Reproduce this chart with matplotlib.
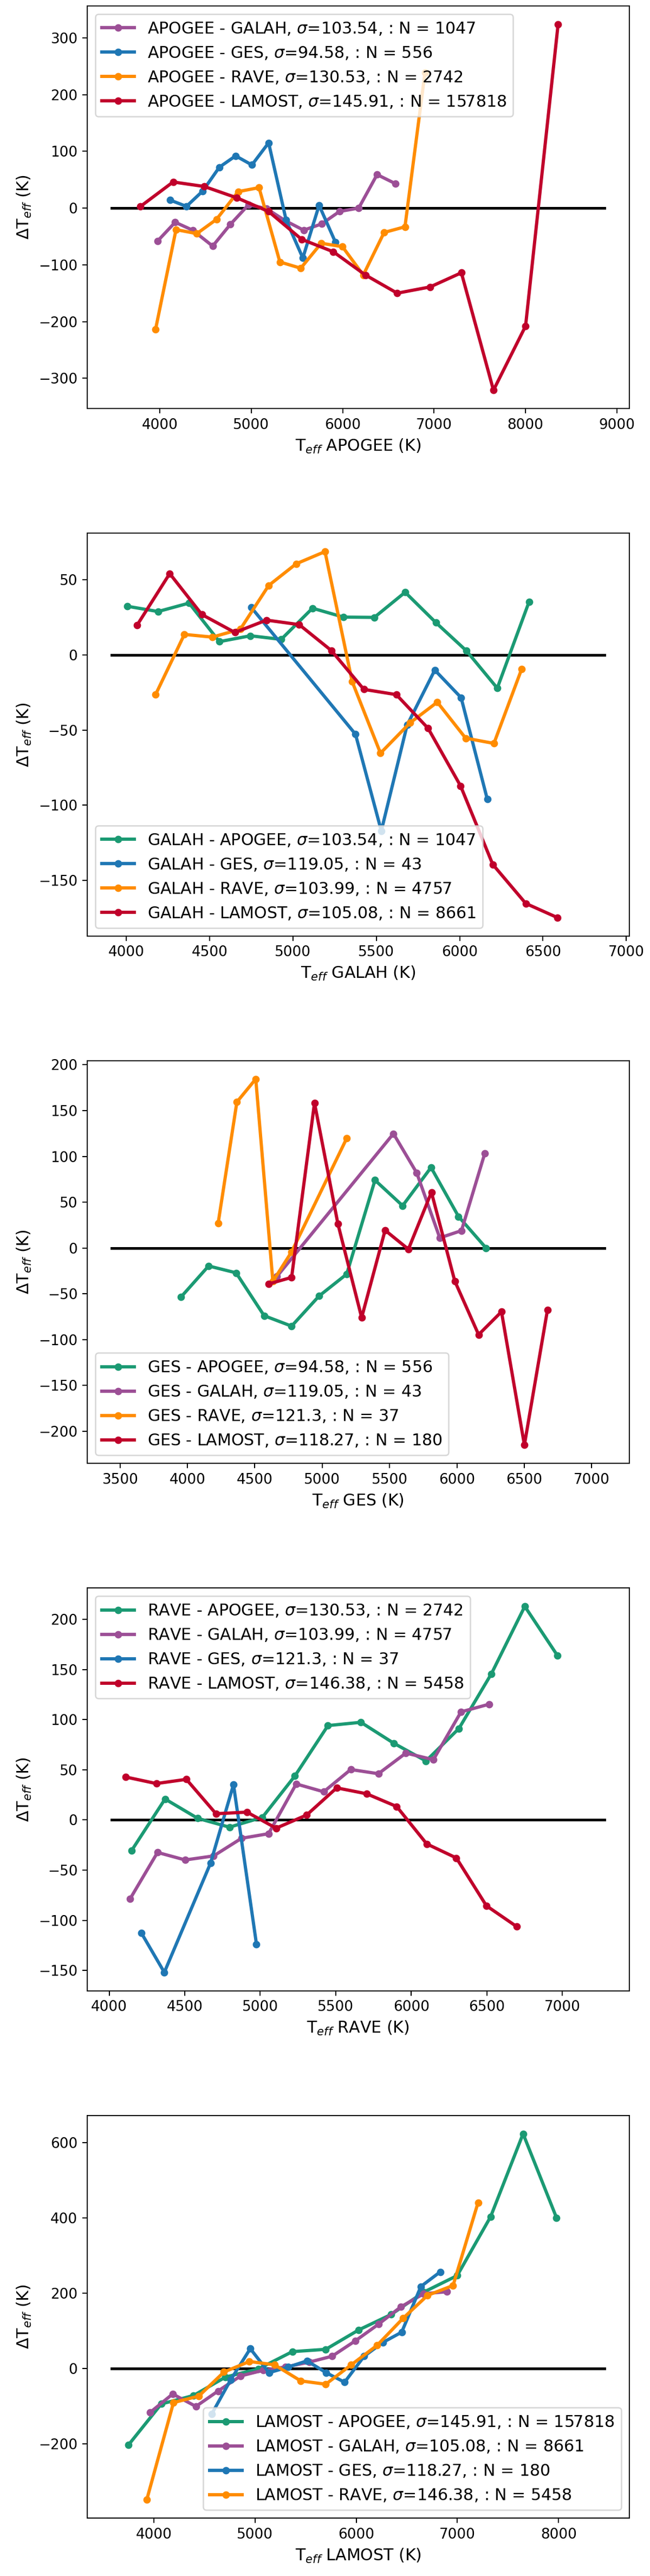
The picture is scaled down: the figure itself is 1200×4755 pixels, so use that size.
import matplotlib
matplotlib.use("Agg")
import matplotlib.pyplot as plt

# colours per survey
colors = {
    'APOGEE': '#1b9a73',
    'GALAH': '#9c4f96',
    'GES': '#1f77b4',
    'RAVE': '#ff8c00',
    'LAMOST': '#c0002b',
}

# ---- APOGEE panel ----
apogee_galah_t = [3977, 4169, 4360, 4579, 4771, 4972, 5168, 5370, 5574, 5770, 5966, 6176, 6377, 6578]
apogee_galah_d = [-58, -25, -39, -67, -29, 6, -1, -22, -39, -28, -6, 0, 59, 43]
apogee_ges_t = [4114, 4292, 4470, 4652, 4830, 5008, 5191, 5382, 5565, 5743, 5921]
apogee_ges_d = [14, 3, 30, 72, 92, 76, 115, -21, -88, 5, -60]
apogee_rave_t = [3954, 4178, 4406, 4620, 4858, 5086, 5314, 5542, 5766, 5998, 6226, 6454, 6682, 6901]
apogee_rave_d = [-214, -38, -45, -20, 29, 36, -95, -106, -62, -68, -118, -43, -33, 239]
apogee_lamost_t = [3790, 4146, 4488, 4844, 5190, 5551, 5898, 6250, 6597, 6957, 7299, 7650, 8001, 8357]
apogee_lamost_d = [3, 46, 38, 18, -6, -55, -77, -118, -150, -139, -114, -321, -208, 324]

# ---- GALAH panel ----
galah_apogee_t = [4005, 4190, 4376, 4558, 4744, 4929, 5117, 5302, 5488, 5673, 5858, 6041, 6226, 6417]
galah_apogee_d = [32.2, 28.7, 34.3, 8.7, 12.6, 10.2, 30.9, 25.0, 24.8, 41.5, 21.3, 2.6, -22.2, 35.2]
galah_ges_t = [4749, 5375, 5530, 5685, 5851, 6009, 6166]
galah_ges_d = [31.5, -52.8, -117, -46.7, -10.2, -28.5, -95.9]
galah_rave_t = [4175, 4348, 4516, 4684, 4854, 5019, 5192, 5355, 5525, 5703, 5866, 6036, 6206, 6372]
galah_rave_d = [-26.5, 13.5, 11.7, 17.0, 46.0, 60.4, 68.5, -17.8, -65.4, -45.2, -31.5, -55.4, -58.9, -9.6]
galah_lamost_t = [4065, 4260, 4453, 4651, 4841, 5037, 5230, 5425, 5620, 5811, 6006, 6199, 6397, 6587]
galah_lamost_d = [19.8, 53.9, 26.7, 14.8, 23.0, 20.0, 2.8, -23.0, -26.5, -48.9, -87.2, -139.3, -165.2, -174.6]

# ---- GES panel ----
ges_apogee_t = [3952, 4157, 4361, 4569, 4773, 4977, 5182, 5392, 5597, 5808, 6012, 6216]
ges_apogee_d = [-53.6, -19.7, -27.2, -74.0, -85.4, -52.5, -28.6, 74.0, 46.1, 87.9, 34.3, 0.0]
ges_galah_t = [4665, 5529, 5702, 5873, 6034, 6207]
ges_galah_d = [-31, 124.8, 81.9, 11.0, 18.9, 103.3]
ges_rave_t = [4228, 4367, 4507, 4634, 4773, 5182]
ges_rave_d = [27.2, 159.4, 184.5, -36.5, -4.3, 119.7]
ges_lamost_t = [4603, 4773, 4943, 5117, 5293, 5467, 5640, 5811, 5984, 6161, 6331, 6501, 6672]
ges_lamost_d = [-39.3, -32.2, 158.4, 26.1, -76.1, 19.3, -1.4, 60.8, -36.1, -94.7, -69.7, -215.2, -67.9]

# ---- RAVE panel ----
rave_apogee_t = [4149, 4370, 4586, 4796, 5014, 5229, 5448, 5666, 5884, 6097, 6315, 6530, 6751, 6967]
rave_apogee_d = [-30.4, 20.9, 1.6, -7.2, 2.6, 43.8, 94.1, 97.4, 76.5, 58.8, 91.2, 145.8, 213.0, 164.0]
rave_galah_t = [4138, 4320, 4503, 4691, 4876, 5055, 5238, 5420, 5599, 5782, 5964, 6146, 6329, 6514]
rave_galah_d = [-78.8, -32.4, -39.9, -35.9, -18.3, -13.7, 35.9, 28.1, 50.3, 46.1, 66.7, 60.1, 107.8, 115.4]
rave_ges_t = [4213, 4365, 4671, 4823, 4975]
rave_ges_d = [-112.7, -152.0, -43.1, 35.3, -123.9]
rave_lamost_t = [4110, 4312, 4511, 4707, 4912, 5105, 5307, 5506, 5704, 5903, 6102, 6298, 6497, 6696]
rave_lamost_d = [42.8, 36.3, 40.5, 6.2, 7.8, -8.2, 4.9, 32.0, 26.1, 13.4, -23.9, -37.9, -85.6, -106.2]

# ---- LAMOST panel ----
lamost_apogee_t = [3748, 4074, 4392, 4709, 5035, 5369, 5699, 6025, 6346, 6668, 6998, 7328, 7649, 7979]
lamost_apogee_d = [-203.7, -94.4, -72.0, -23.0, -1.0, 44.6, 50.7, 102.3, 143.4, 202.8, 246.6, 403.0, 623.4, 400.4]
lamost_galah_t = [3963, 4186, 4416, 4635, 4858, 5080, 5303, 5534, 5761, 5992, 6219, 6441, 6668, 6895]
lamost_galah_d = [-117, -68, -101, -60, -20, -5, 4, 16.6, 32.3, 73.4, 117.2, 163.5, 198.5, 203.7]
lamost_ges_t = [4573, 4759, 4953, 5138, 5328, 5513, 5703, 5885, 6078, 6264, 6449, 6639, 6829]
lamost_ges_d = [-120.7, -30.6, 52.5, -11.4, 3.5, 20.1, -11.4, -36.7, 32.3, 69.1, 96.2, 217.7, 256.2]
lamost_rave_t = [3930, 4194, 4445, 4693, 4944, 5192, 5452, 5699, 5951, 6206, 6462, 6705, 6957, 7204]
lamost_rave_d = [-348.9, -90.9, -73.4, -9.6, 18.4, 9.6, -33.2, -42.0, 9.6, 61.2, 132.9, 194.1, 220.3, 440.7]

# sigma and N for every pair
pair_sigma = {('APOGEE', 'GALAH'): '103.54', ('APOGEE', 'GES'): '94.58',
              ('APOGEE', 'RAVE'): '130.53', ('APOGEE', 'LAMOST'): '145.91',
              ('GALAH', 'GES'): '119.05', ('GALAH', 'RAVE'): '103.99',
              ('GALAH', 'LAMOST'): '105.08', ('GES', 'RAVE'): '121.3',
              ('GES', 'LAMOST'): '118.27', ('RAVE', 'LAMOST'): '146.38'}
pair_n = {('APOGEE', 'GALAH'): 1047, ('APOGEE', 'GES'): 556,
          ('APOGEE', 'RAVE'): 2742, ('APOGEE', 'LAMOST'): 157818,
          ('GALAH', 'GES'): 43, ('GALAH', 'RAVE'): 4757,
          ('GALAH', 'LAMOST'): 8661, ('GES', 'RAVE'): 37,
          ('GES', 'LAMOST'): 180, ('RAVE', 'LAMOST'): 5458}

# extent of the zero line per panel
zero_span = {'APOGEE': (3475, 8865), 'GALAH': (3912, 6870), 'GES': (3438, 7096),
             'RAVE': (4017, 7279), 'LAMOST': (3584, 8454)}

panels = [
    ('APOGEE', [('GALAH', apogee_galah_t, apogee_galah_d), ('GES', apogee_ges_t, apogee_ges_d),
                ('RAVE', apogee_rave_t, apogee_rave_d), ('LAMOST', apogee_lamost_t, apogee_lamost_d)],
     'upper left'),
    ('GALAH', [('APOGEE', galah_apogee_t, galah_apogee_d), ('GES', galah_ges_t, galah_ges_d),
               ('RAVE', galah_rave_t, galah_rave_d), ('LAMOST', galah_lamost_t, galah_lamost_d)],
     'lower left'),
    ('GES', [('APOGEE', ges_apogee_t, ges_apogee_d), ('GALAH', ges_galah_t, ges_galah_d),
             ('RAVE', ges_rave_t, ges_rave_d), ('LAMOST', ges_lamost_t, ges_lamost_d)],
     'lower left'),
    ('RAVE', [('APOGEE', rave_apogee_t, rave_apogee_d), ('GALAH', rave_galah_t, rave_galah_d),
              ('GES', rave_ges_t, rave_ges_d), ('LAMOST', rave_lamost_t, rave_lamost_d)],
     'upper left'),
    ('LAMOST', [('APOGEE', lamost_apogee_t, lamost_apogee_d), ('GALAH', lamost_galah_t, lamost_galah_d),
                ('GES', lamost_ges_t, lamost_ges_d), ('RAVE', lamost_rave_t, lamost_rave_d)],
     'lower right'),
]

order = ['APOGEE', 'GALAH', 'GES', 'RAVE', 'LAMOST']

dpi = 180
fig, axes = plt.subplots(5, 1, figsize=(1200 / dpi, 4755 / dpi), dpi=dpi)
fig.subplots_adjust(left=0.134, right=0.968, top=0.9977, bottom=0.0225, hspace=0.31)

for ax, (ref, comps, loc) in zip(axes, panels):
    lo, hi = zero_span[ref]
    ax.plot([lo, hi], [0, 0], color='black', lw=2.0)
    for other, t, d in comps:
        key = tuple(sorted((ref, other), key=order.index))
        label = f'{ref} - {other}, $\\sigma$={pair_sigma[key]}, : N = {pair_n[key]}'
        ax.plot(t, d, '-o', color=colors[other], lw=2.4, ms=4.5, label=label)
    ax.tick_params(labelsize=10.5)
    ax.set_xlabel(f'T$_{{eff}}$ {ref} (K)', fontsize=12)
    ax.set_ylabel(r'$\Delta$T$_{eff}$ (K)', fontsize=12)
    ax.legend(loc=loc, fontsize=12)

fig.savefig('out.png', dpi=dpi)
